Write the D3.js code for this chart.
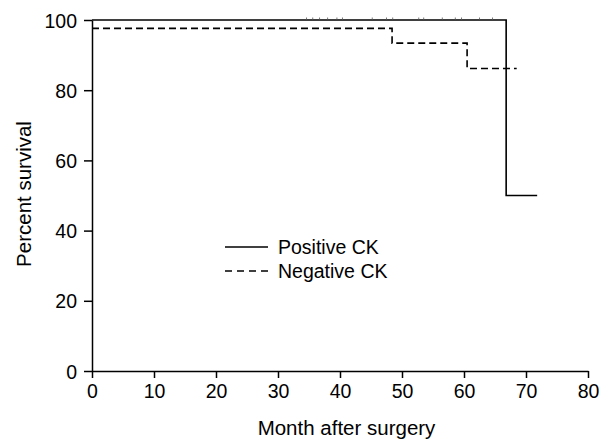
<!DOCTYPE html>
<html>
<head>
<meta charset="utf-8">
<script src="https://cdn.jsdelivr.net/npm/d3@7"></script>
<style>
	body { margin: 0; background: #fff; }
	text { font-family: Arial, "Liberation Sans", sans-serif; fill: #000; }
	.axis path, .axis line { stroke: #000; stroke-width: 1.5; }
</style>
</head>
<body>
<div id="container"></div>
<script>
// survival curves (months, percent)
var posMonths = [0, 66.8, 71.8];
var posSurvival = [100, 50, 50];
var negMonths = [0, 48.4, 60.5, 68.5];
var negSurvival = [97.6, 93.4, 86.2, 86.2];
// censored observations on the positive curve
var posCensor = [34.6, 35.6, 36.7, 38, 39.5, 40.4, 45.2, 47.5, 48.5, 52.7, 53.5, 56.5, 58.6, 59.6, 62.5, 64.6];

var xTicks = [0, 10, 20, 30, 40, 50, 60, 70, 80];
var yTicks = [0, 20, 40, 60, 80, 100];
var legendLabels = ["Positive CK", "Negative CK"];

var margin = {top: 20, right: 27, bottom: 68, left: 92},
	width = 615 - margin.left - margin.right,
	height = 439 - margin.top - margin.bottom;

var svg = d3.select("#container").append("svg")
	.attr("width", 615)
	.attr("height", 439)
	.append("g")
	.attr("transform", "translate(" + margin.left + "," + margin.top + ")");

var x = d3.scaleLinear().domain([0, 80]).range([0, width]);
var y = d3.scaleLinear().domain([0, 100]).range([height, 0]);

var xAxis = d3.axisBottom(x).tickValues(xTicks).tickSize(7).tickPadding(6).tickSizeOuter(0);
var yAxis = d3.axisLeft(y).tickValues(yTicks).tickSize(8).tickPadding(7).tickSizeOuter(0);

svg.append("g")
	.attr("class", "x axis")
	.attr("transform", "translate(0," + height + ")")
	.call(xAxis)
	.selectAll("text")
	.style("font-size", "19.5px");

svg.append("g")
	.attr("class", "y axis")
	.call(yAxis)
	.selectAll("text")
	.style("font-size", "19.5px")
	.attr("dy", "0.36em");

svg.append("text")
	.attr("x", (255 + 438) / 2 - margin.left)
	.attr("y", 435 - margin.top)
	.style("text-anchor", "middle")
	.style("font-size", "20.5px")
	.text("Month after surgery");

svg.append("text")
	.attr("transform", "rotate(-90)")
	.attr("x", -(194 - margin.top))
	.attr("y", 31 - margin.left)
	.style("text-anchor", "middle")
	.style("font-size", "20.5px")
	.text("Percent survival");

var stepLine = d3.line()
	.x(function(d) { return x(d[0]); })
	.y(function(d) { return y(d[1]); })
	.curve(d3.curveStepAfter);

svg.append("path")
	.attr("d", stepLine(d3.zip(posMonths, posSurvival)))
	.attr("fill", "none")
	.attr("stroke", "#000")
	.attr("stroke-width", 1.6);

svg.append("path")
	.attr("d", stepLine(d3.zip(negMonths, negSurvival)))
	.attr("fill", "none")
	.attr("stroke", "#000")
	.attr("stroke-width", 1.6)
	.attr("stroke-dasharray", "7,4");

svg.selectAll(".censor").data(posCensor).enter()
	.append("line")
	.attr("class", "censor")
	.attr("x1", function(d) { return x(d); })
	.attr("x2", function(d) { return x(d); })
	.attr("y1", y(100))
	.attr("y2", y(100) - 2.5)
	.attr("stroke", "#555")
	.attr("stroke-width", 0.8);

// legend
var legend = svg.append("g")
	.attr("transform", "translate(" + (225 - margin.left) + "," + (247 - margin.top) + ")");

legendLabels.forEach(function(lbl, i) {
	legend.append("line")
		.attr("x1", 0).attr("x2", 43)
		.attr("y1", i * 24).attr("y2", i * 24)
		.attr("stroke", "#000")
		.attr("stroke-width", 1.6)
		.attr("stroke-dasharray", i == 1 ? "7,5" : null);
	legend.append("text")
		.attr("x", 53)
		.attr("y", i * 24 + 7)
		.style("font-size", "19.5px")
		.text(lbl);
});
</script>
</body>
</html>
